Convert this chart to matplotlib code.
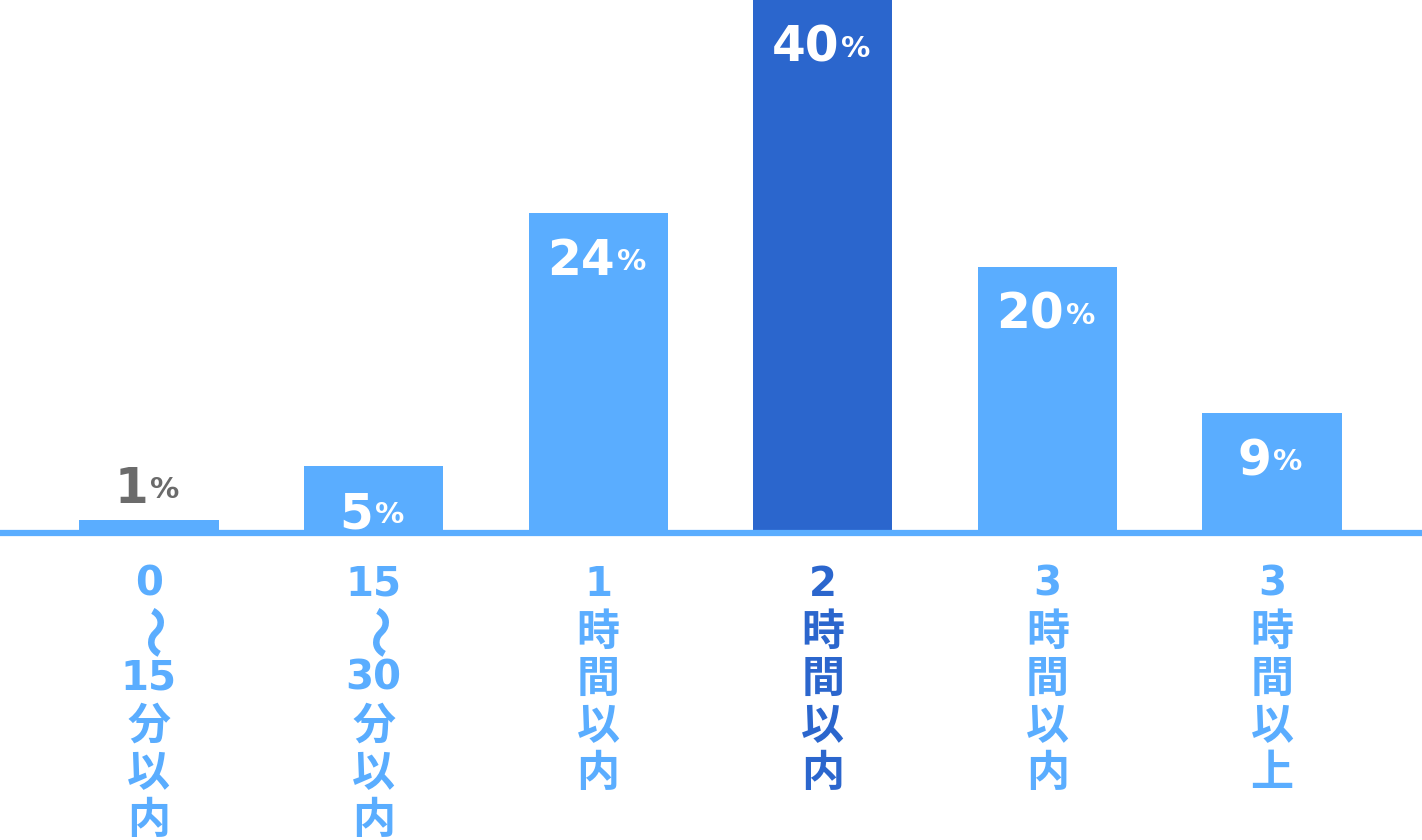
import matplotlib
matplotlib.use("Agg")
import matplotlib.pyplot as plt
from matplotlib.transforms import offset_copy

plt.rcParams['font.family'] = ['DejaVu Sans', 'Noto Sans CJK JP']

categories = [["0", "〜", "15", "分", "以", "内"],
              ["15", "〜", "30", "分", "以", "内"],
              ["1", "時", "間", "以", "内"],
              ["2", "時", "間", "以", "内"],
              ["3", "時", "間", "以", "内"],
              ["3", "時", "間", "以", "上"]]
values = [1, 5, 24, 40, 20, 9]
highlight = 3

LIGHT = "#5aadff"
DARK = "#2b66cd"
GRAY = "#6b6b6b"

fig = plt.figure(figsize=(14.22, 8.4), dpi=100)
ax = fig.add_axes([0, (840 - 533) / 840, 1, 533 / 840])
ax.set_xlim(-0.663, 5.668)
ax.set_ylim(0, 40)
ax.axis("off")

x = list(range(len(values)))
colors = [DARK if i == highlight else LIGHT for i in x]
ax.bar(x, values, width=0.62, color=colors, zorder=2)
ax.axhline(0, color=LIGHT, lw=4.5, zorder=3, clip_on=False, solid_capstyle="round")

PX = 72 / 100  # points per pixel
DIGIT_W = 34
PCT_W = 33

for i, v in enumerate(values):
    inside = v >= 3
    col = "white" if inside else GRAY
    base_off = -62 if inside else 17
    s = str(v)
    wn = len(s) * DIGIT_W
    right = (wn - PCT_W - 2) / 2
    tr = offset_copy(ax.transData, fig=fig, x=right * PX, y=base_off * PX, units="points")
    ax.text(i, v, s, transform=tr, ha="right", va="baseline",
            fontsize=35, fontweight="bold", color=col, zorder=4)
    tr2 = offset_copy(ax.transData, fig=fig, x=(right + 2) * PX, y=(base_off + 5) * PX, units="points")
    ax.text(i, v, "%", transform=tr2, ha="left", va="baseline",
            fontsize=21, fontweight="bold", color=col, zorder=4)

for i, chars in enumerate(categories):
    col = DARK if i == highlight else LIGHT
    for j, ch in enumerate(chars):
        ypix = 585 + 47 * j
        tr = offset_copy(ax.transData, fig=fig, x=0, y=-(ypix - 533) * PX, units="points")
        if ch == "〜":
            ax.text(i, 0, ch, transform=tr, ha="center", va="center", rotation=-90,
                    fontsize=38, fontweight="bold", color=col,
                    family=['Noto Sans CJK JP'])
        elif ch.isdigit():
            ax.text(i, 0, ch, transform=tr, ha="center", va="center",
                    fontsize=29, fontweight="bold", color=col)
        else:
            ax.text(i, 0, ch, transform=tr, ha="center", va="center",
                    fontsize=31, fontweight="bold", color=col,
                    family=['Noto Sans CJK JP'])

fig.savefig("out.png", dpi=100)
